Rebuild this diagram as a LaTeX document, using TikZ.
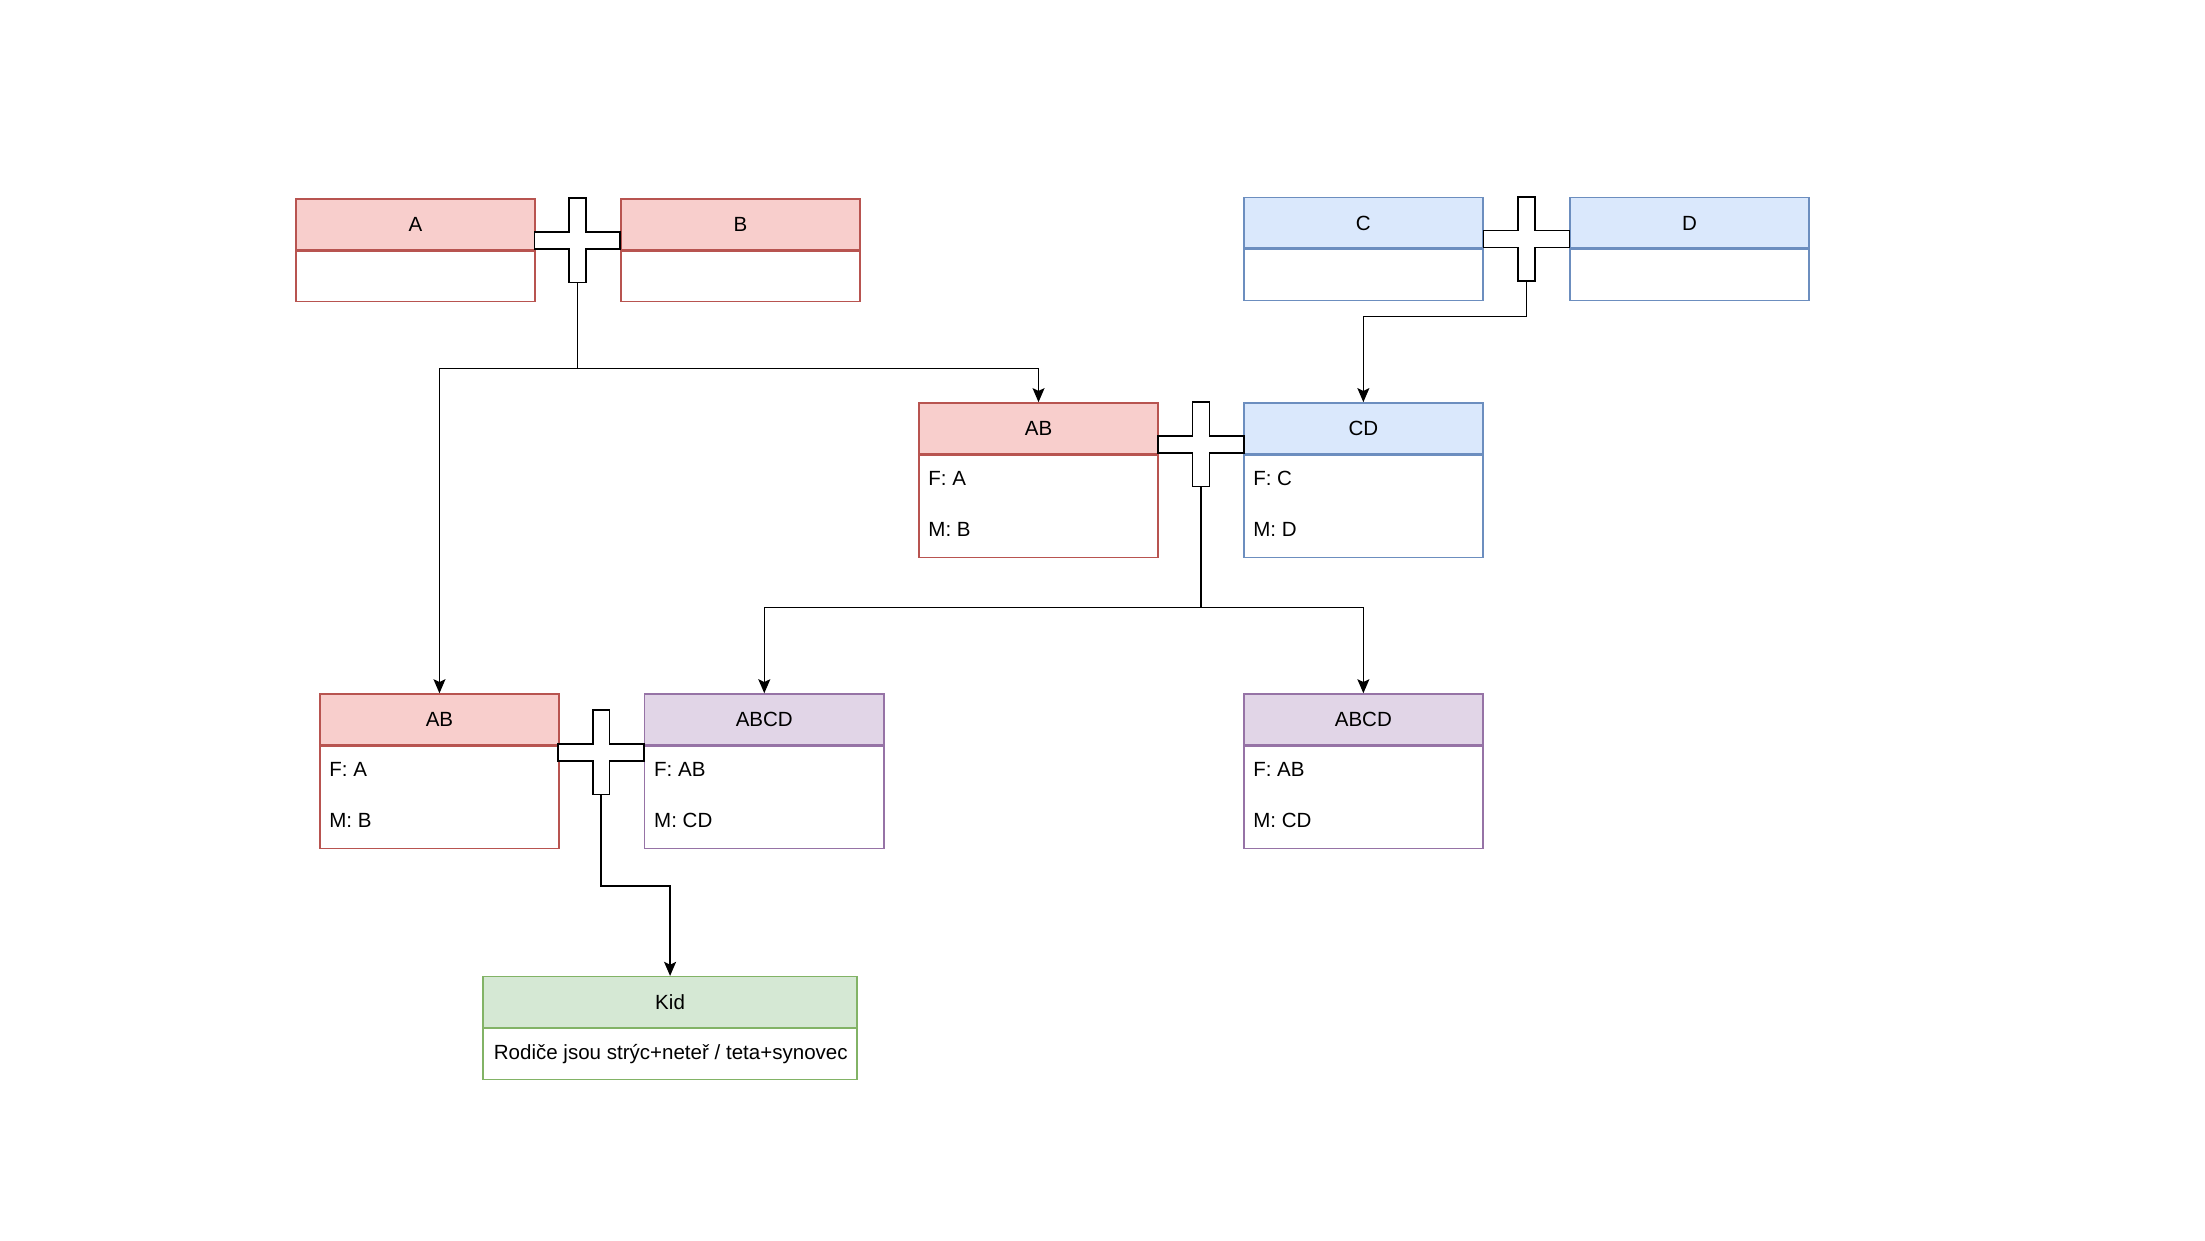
\documentclass[tikz,border=0pt]{standalone}
\usepackage{fontspec}
\setmainfont{Liberation Sans}
\usepackage{tikz}
\usetikzlibrary{arrows.meta,positioning}
\definecolor{redfill}{HTML}{F8CECC}
\definecolor{redline}{HTML}{B85450}
\definecolor{bluefill}{HTML}{DAE8FC}
\definecolor{blueline}{HTML}{6C8EBF}
\definecolor{violetfill}{HTML}{E1D5E7}
\definecolor{violetline}{HTML}{9673A6}
\definecolor{greenfill}{HTML}{D5E8D4}
\definecolor{greenline}{HTML}{82B366}
% plus sign between two partners: centre x, centre y, name of its lower end
\newcommand{\pluscross}[3]{%
  \draw[crossline] (#1-6,#2-30) -- ++(12,0) -- ++(0,24) -- ++(24.5,0) -- ++(0,12)
    -- ++(-24.5,0) -- ++(0,24) -- ++(-12,0) -- ++(0,-24) -- ++(-24.5,0)
    -- ++(0,-12) -- ++(24.5,0) -- cycle;
  \coordinate (#3) at (#1,#2+30);}

\begin{document}
\begin{tikzpicture}[x=1pt,y=-1pt,font=\fontsize{14.6}{17.5}\selectfont]
    \tikzset{head/.style = {shape=rectangle,draw,anchor=north west,minimum width=170pt,minimum height=36pt,inner sep=0pt,line width=1pt,text height=10.5pt,text depth=0pt}}
    \tikzset{body/.style = {shape=rectangle,draw,fill=white,minimum width=170pt,minimum height=36pt,inner sep=0pt,line width=1pt}}
    \tikzset{rowtxt/.style = {anchor=west,inner sep=0pt,text height=10.5pt,text depth=0pt}}
    \tikzset{crossline/.style = {draw=black,fill=white,line width=1.2pt,line join=miter}}
    \tikzset{link/.style = {-{Stealth[length=10pt,width=8.5pt,inset=2pt]},line width=1.1pt}}
    \useasboundingbox (0,0) rectangle (1568,882);
    % first generation
    \node[head,fill=redfill,draw=redline] (A) at (210,141) {A};
    \node[body,draw=redline,below=0pt of A] (Ab) {};
    \node[head,fill=redfill,draw=redline] (B) at (441,141) {B};
    \node[body,draw=redline,below=0pt of B] (Bb) {};
    \node[head,fill=bluefill,draw=blueline] (C) at (884,140) {C};
    \node[body,draw=blueline,below=0pt of C] (Cb) {};
    \node[head,fill=bluefill,draw=blueline] (D) at (1116,140) {D};
    \node[body,draw=blueline,below=0pt of D] (Db) {};
    % second generation
    \node[head,fill=redfill,draw=redline] (AB) at (653,286) {AB};
    \node[body,draw=redline,minimum height=73pt,below=0pt of AB] (ABb) {};
    \node[rowtxt] (ABf) at (660,340) {F: A};
    \node[rowtxt] (ABm) at (660,376) {M: B};
    \node[head,fill=bluefill,draw=blueline] (CD) at (884,286) {CD};
    \node[body,draw=blueline,minimum height=73pt,below=0pt of CD] (CDb) {};
    \node[rowtxt] (CDf) at (891,340) {F: C};
    \node[rowtxt] (CDm) at (891,376) {M: D};
    % third generation
    \node[head,fill=redfill,draw=redline] (ABx) at (227,493) {AB};
    \node[body,draw=redline,minimum height=73pt,below=0pt of ABx] (ABxb) {};
    \node[rowtxt] (ABxf) at (234,547) {F: A};
    \node[rowtxt] (ABxm) at (234,583) {M: B};
    \node[head,fill=violetfill,draw=violetline] (ABCD) at (458,493) {ABCD};
    \node[body,draw=violetline,minimum height=73pt,below=0pt of ABCD] (ABCDb) {};
    \node[rowtxt] (ABCDf) at (465,547) {F: AB};
    \node[rowtxt] (ABCDm) at (465,583) {M: CD};
    \node[head,fill=violetfill,draw=violetline] (ABCDx) at (884,493) {ABCD};
    \node[body,draw=violetline,minimum height=73pt,below=0pt of ABCDx] (ABCDxb) {};
    \node[rowtxt] (ABCDxf) at (891,547) {F: AB};
    \node[rowtxt] (ABCDxm) at (891,583) {M: CD};
    % child
    \node[head,fill=greenfill,draw=greenline,minimum width=266pt] (Kid) at (343,694) {Kid};
    \node[body,draw=greenline,minimum width=266pt,below=0pt of Kid] (Kidb) {};
    \node[rowtxt] (Kidr) at (351,748) {Rodiče jsou strýc+neteř / teta+synovec};
    % couples
    \pluscross{410.5}{171}{X1}
    \pluscross{1085.5}{170}{X2}
    \pluscross{854}{316}{X3}
    \pluscross{427.5}{535}{X4}
    % descent lines
    \coordinate (J1) at (410.5,262);
    \coordinate (J2) at (1085.5,225);
    \coordinate (J3) at (854,432);
    \coordinate (J4) at (427.5,630);
    \draw[line width=1.1pt] (X1) -- (J1);
    \draw[link] (J1) -| (ABx.north);
    \draw[link] (J1) -| (AB.north);
    \draw[link] (X2) -- (J2) -| (CD.north);
    \draw[line width=1.1pt] (X3) -- (J3);
    \draw[link] (J3) -| (ABCD.north);
    \draw[link] (J3) -| (ABCDx.north);
    \draw[link] (X4) -- (J4) -| (Kid.north);
\end{tikzpicture}
\end{document}
